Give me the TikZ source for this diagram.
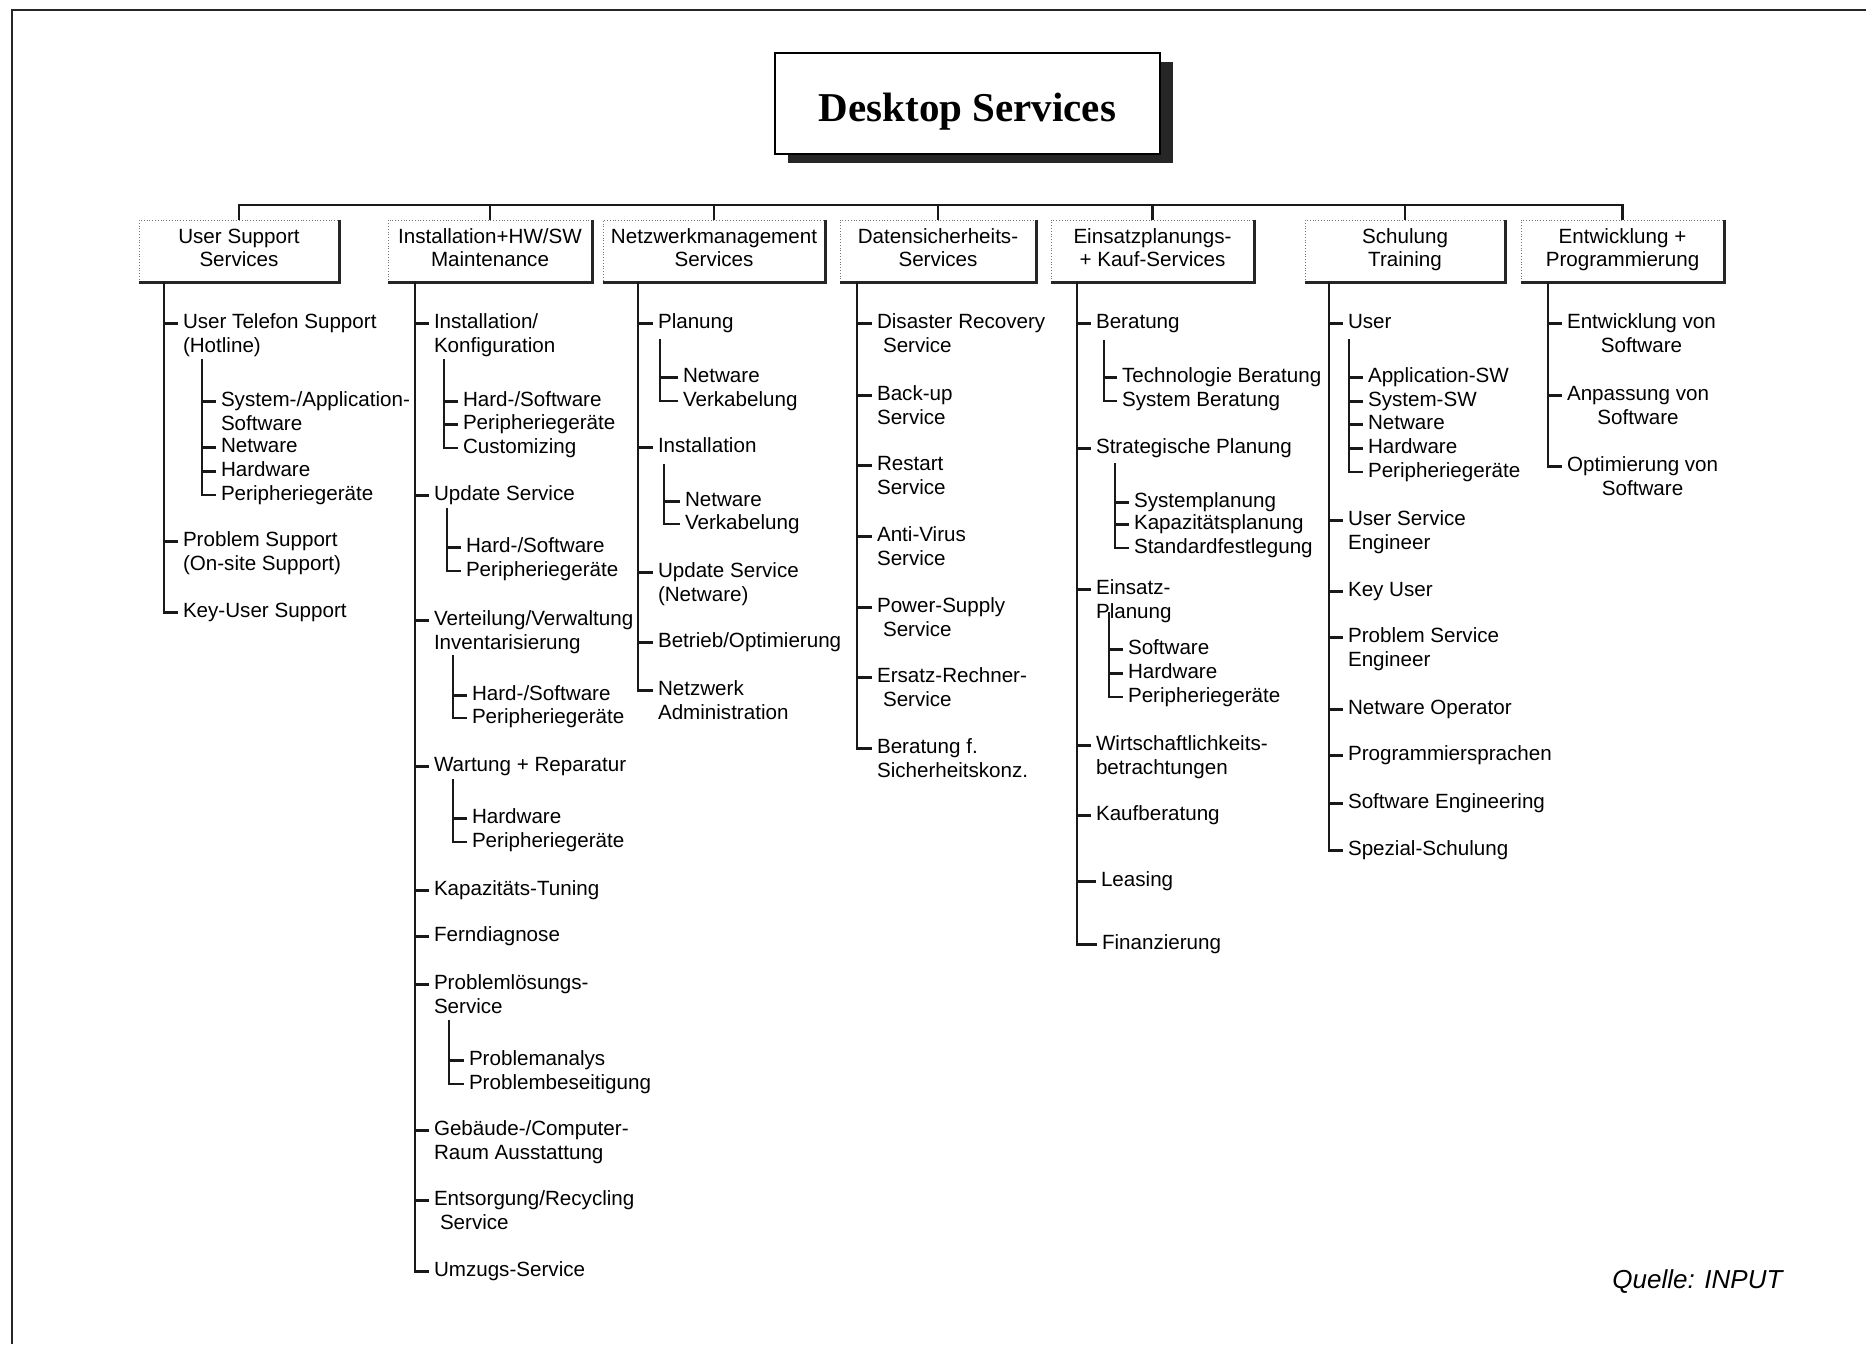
\documentclass[tikz,border=0pt]{standalone}
\usepackage{fontspec}
\setmainfont{Liberation Sans}
\newfontfamily\titlefont{Liberation Serif}
\usetikzlibrary{shadows}
\newcommand\itemfont{\fontsize{10.3}{11.9}\selectfont}
\newcommand\boxfont{\fontsize{10.3}{11.3}\selectfont}
\newcommand\twoL[1]{\begin{tabular}[t]{@{}l@{}}#1\end{tabular}}
\newcommand\twoC[1]{\begin{tabular}[t]{@{}c@{}}#1\end{tabular}}
\newcommand\boxtext[1]{\raisebox{0.3pt}[\height][\depth]{\begin{tabular}{@{}c@{}}#1\end{tabular}}}
\begin{document}
\begin{tikzpicture}[x=0.5pt,y=-0.5pt,
  frameline/.style={line width=1.3pt, black!85},
  titlebox/.style={draw=black, line width=1pt, fill=white, minimum width=192.5pt, minimum height=50.5pt,
    font=\titlefont\bfseries\fontsize{20.5}{24}\selectfont,
    drop shadow={shadow xshift=6.5pt, shadow yshift=-4.5pt, fill=black!85, opacity=1}},
  catbox/.style={draw=black!55, densely dotted, line width=0.4pt, minimum height=31pt, inner sep=0pt, font=\boxfont},
  boxshade/.style={line width=1.6pt, black!85},
  bus/.style={line width=1.4pt, black!90},
  trunk/.style={line width=1.4pt, black!90},
  subtrunk/.style={line width=1pt, black!90},
  tick/.style={line width=1.1pt, black!90},
  item/.style={anchor=mid west, inner sep=0pt, outer xsep=2.5pt, yshift=-1.2pt, font=\itemfont}
]
\useasboundingbox (0,0) rectangle (1866,1344);
% frame
\coordinate (fTL) at (12,10);
\coordinate (fTR) at (1866,10);
\coordinate (fBL) at (12,1344);
\draw[frameline] (fBL) -- (fTL) -- (fTR);

% title
\node[titlebox] (title) at (967.5,103.5) {\raisebox{-4pt}[\height][\depth]{Desktop Services}};

% category boxes
\node[catbox, minimum width=100pt]   (k1) at (239,251)    {\boxtext{User Support\\Services}};
\node[catbox, minimum width=102pt]   (k2) at (490,251)    {\boxtext{Installation+HW/SW\\Maintenance}};
\node[catbox, minimum width=111pt]   (k3) at (714,251)    {\boxtext{Netzwerkmanagement\\Services}};
\node[catbox, minimum width=98pt]    (k4) at (938,251)    {\boxtext{Datensicherheits-\\Services}};
\node[catbox, minimum width=101.5pt] (k5) at (1152.5,251) {\boxtext{Einsatzplanungs-\\+ Kauf-Services}};
\node[catbox, minimum width=100pt]   (k6) at (1405,251)   {\boxtext{Schulung\\Training}};
\node[catbox, minimum width=101.5pt] (k7) at (1622.5,251) {\boxtext{Entwicklung +\\Programmierung}};
\foreach \k in {k1,k2,k3,k4,k5,k6,k7}
  \draw[boxshade] (\k.north east) -- (\k.south east) -- (\k.south west);

% bus
\coordinate (bus) at (0,205);
\draw[bus] (k1.north) -- (k1.north |- bus) -- (k7.north |- bus) -- (k7.north);
\foreach \k in {k2,k3,k4,k5,k6}
  \draw[bus] (\k.north) -- (\k.north |- bus);

% ---------- Column 1 ----------
\coordinate (t1) at (164,282);
\node[item] (a1) at (178,321) {\twoL{User Telefon Support\\(Hotline)}};
\coordinate (c1s1) at (202,359);
\node[item] (a1a) at (216,399) {\twoL{System-/Application-\\Software}};
\node[item] (a1b) at (216,445) {Netware};
\node[item] (a1c) at (216,469) {Hardware};
\node[item] (a1d) at (216,493) {Peripheriegeräte};
\node[item] (a2) at (178,539) {\twoL{Problem Support\\(On-site Support)}};
\node[item] (a3) at (178,610) {Key-User Support};
\draw[trunk] (t1) |- (a3.mid west);
\foreach \n in {a1,a2} \draw[tick] (\n.mid west) -- (\n.mid west -| t1);
\draw[subtrunk] (c1s1) |- (a1d.mid west);
\foreach \n in {a1a,a1b,a1c} \draw[tick] (\n.mid west) -- (\n.mid west -| c1s1);

% ---------- Column 2 ----------
\coordinate (t2) at (415,282);
\node[item] (b1) at (429,321) {\twoL{Installation/\\Konfiguration}};
\coordinate (c2s1) at (444,359);
\node[item] (b1a) at (458,399) {Hard-/Software};
\node[item] (b1b) at (458,422) {Peripheriegeräte};
\node[item] (b1c) at (458,446) {Customizing};
\node[item] (b2) at (429,493) {Update Service};
\coordinate (c2s2) at (447,508);
\node[item] (b2a) at (461,545) {Hard-/Software};
\node[item] (b2b) at (461,569) {Peripheriegeräte};
\node[item] (b3) at (429,618) {\twoL{Verteilung/Verwaltung\\Inventarisierung}};
\coordinate (c2s3) at (453,655);
\node[item] (b3a) at (467,693) {Hard-/Software};
\node[item] (b3b) at (467,716) {Peripheriegeräte};
\node[item] (b4) at (429,764) {Wartung + Reparatur};
\coordinate (c2s4) at (453,779);
\node[item] (b4a) at (467,816) {Hardware};
\node[item] (b4b) at (467,840) {Peripheriegeräte};
\node[item] (b5) at (429,888) {Kapazitäts-Tuning};
\node[item] (b6) at (429,934) {Ferndiagnose};
\node[item] (b7) at (429,982) {\twoL{Problemlösungs-\\Service}};
\coordinate (c2s5) at (449,1020);
\node[item] (b7a) at (464,1058) {Problemanalys};
\node[item] (b7b) at (464,1082) {Problembeseitigung};
\node[item] (b8) at (429,1128) {\twoL{Gebäude-/Computer-\\Raum Ausstattung}};
\node[item] (b9) at (429,1198) {\twoL{Entsorgung/Recycling\\\hspace*{3pt}Service}};
\node[item] (b10) at (429,1269) {Umzugs-Service};
\draw[trunk] (t2) |- (b10.mid west);
\foreach \n in {b1,b2,b3,b4,b5,b6,b7,b8,b9} \draw[tick] (\n.mid west) -- (\n.mid west -| t2);
\draw[subtrunk] (c2s1) |- (b1c.mid west);
\foreach \n in {b1a,b1b} \draw[tick] (\n.mid west) -- (\n.mid west -| c2s1);
\draw[subtrunk] (c2s2) |- (b2b.mid west);
\draw[tick] (b2a.mid west) -- (b2a.mid west -| c2s2);
\draw[subtrunk] (c2s3) |- (b3b.mid west);
\draw[tick] (b3a.mid west) -- (b3a.mid west -| c2s3);
\draw[subtrunk] (c2s4) |- (b4b.mid west);
\draw[tick] (b4a.mid west) -- (b4a.mid west -| c2s4);
\draw[subtrunk] (c2s5) |- (b7b.mid west);
\draw[tick] (b7a.mid west) -- (b7a.mid west -| c2s5);

% ---------- Column 3 ----------
\coordinate (t3) at (638,282);
\node[item] (c1) at (653,321) {Planung};
\coordinate (c3s1) at (660,339);
\node[item] (c1a) at (678,375) {Netware};
\node[item] (c1b) at (678,399) {Verkabelung};
\node[item] (c2) at (653,445) {Installation};
\coordinate (c3s2) at (664,464);
\node[item] (c2a) at (680,499) {Netware};
\node[item] (c2b) at (680,522) {Verkabelung};
\node[item] (c3) at (653,570) {\twoL{Update Service\\(Netware)}};
\node[item] (c4) at (653,640) {Betrieb/Optimierung};
\node[item] (c5) at (653,688) {\twoL{Netzwerk\\Administration}};
\draw[trunk] (t3) |- (c5.mid west);
\foreach \n in {c1,c2,c3,c4} \draw[tick] (\n.mid west) -- (\n.mid west -| t3);
\draw[subtrunk] (c3s1) |- (c1b.mid west);
\draw[tick] (c1a.mid west) -- (c1a.mid west -| c3s1);
\draw[subtrunk] (c3s2) |- (c2b.mid west);
\draw[tick] (c2a.mid west) -- (c2a.mid west -| c3s2);

% ---------- Column 4 ----------
\coordinate (t4) at (857,282);
\node[item] (d1) at (872,321) {\twoL{Disaster Recovery\\\hspace*{3pt}Service}};
\node[item] (d2) at (872,393) {\twoL{Back-up\\Service}};
\node[item] (d3) at (872,463) {\twoL{Restart\\Service}};
\node[item] (d4) at (872,534) {\twoL{Anti-Virus\\Service}};
\node[item] (d5) at (872,605) {\twoL{Power-Supply\\\hspace*{3pt}Service}};
\node[item] (d6) at (872,675) {\twoL{Ersatz-Rechner-\\\hspace*{3pt}Service}};
\node[item] (d7) at (872,746) {\twoL{Beratung f.\\Sicherheitskonz.}};
\draw[trunk] (t4) |- (d7.mid west);
\foreach \n in {d1,d2,d3,d4,d5,d6} \draw[tick] (\n.mid west) -- (\n.mid west -| t4);

% ---------- Column 5 ----------
\coordinate (t5) at (1077,282);
\node[item] (e1) at (1091,321) {Beratung};
\coordinate (c5s1) at (1104,340);
\node[item] (e1a) at (1117,375) {Technologie Beratung};
\node[item] (e1b) at (1117,399) {System Beratung};
\node[item] (e2) at (1091,446) {Strategische Planung};
\coordinate (c5s2) at (1115,463);
\node[item] (e2a) at (1129,500) {Systemplanung};
\node[item] (e2b) at (1129,522) {Kapazitätsplanung};
\node[item] (e2c) at (1129,546) {Standardfestlegung};
\node[item] (e3) at (1091,587) {\twoL{Einsatz-\\Planung}};
\coordinate (c5s3) at (1109,612);
\node[item] (e3a) at (1123,647) {Software};
\node[item] (e3b) at (1123,671) {Hardware};
\node[item] (e3c) at (1123,695) {Peripheriegeräte};
\node[item] (e4) at (1091,743) {\twoL{Wirtschaftlichkeits-\\betrachtungen}};
\node[item] (e5) at (1091,813) {Kaufberatung};
\node[item] (e6) at (1096,879) {Leasing};
\node[item] (e7) at (1097,942) {Finanzierung};
\draw[trunk] (t5) |- (e7.mid west);
\foreach \n in {e1,e2,e3,e4,e5,e6} \draw[tick] (\n.mid west) -- (\n.mid west -| t5);
\draw[subtrunk] (c5s1) |- (e1b.mid west);
\draw[tick] (e1a.mid west) -- (e1a.mid west -| c5s1);
\draw[subtrunk] (c5s2) |- (e2c.mid west);
\foreach \n in {e2a,e2b} \draw[tick] (\n.mid west) -- (\n.mid west -| c5s2);
\draw[subtrunk] (c5s3) |- (e3c.mid west);
\foreach \n in {e3a,e3b} \draw[tick] (\n.mid west) -- (\n.mid west -| c5s3);

% ---------- Column 6 ----------
\coordinate (t6) at (1329,282);
\node[item] (f1) at (1343,321) {User};
\coordinate (c6s1) at (1349,339);
\node[item] (f1a) at (1363,375) {Application-SW};
\node[item] (f1b) at (1363,399) {System-SW};
\node[item] (f1c) at (1363,422) {Netware};
\node[item] (f1d) at (1363,446) {Hardware};
\node[item] (f1e) at (1363,470) {Peripheriegeräte};
\node[item] (f2) at (1343,518) {\twoL{User Service\\Engineer}};
\node[item] (f3) at (1343,589) {Key User};
\node[item] (f4) at (1343,635) {\twoL{Problem Service\\Engineer}};
\node[item] (f5) at (1343,707) {Netware Operator};
\node[item] (f6) at (1343,753) {Programmiersprachen};
\node[item] (f7) at (1343,801) {Software Engineering};
\node[item] (f8) at (1343,848) {Spezial-Schulung};
\draw[trunk] (t6) |- (f8.mid west);
\foreach \n in {f1,f2,f3,f4,f5,f6,f7} \draw[tick] (\n.mid west) -- (\n.mid west -| t6);
\draw[subtrunk] (c6s1) |- (f1e.mid west);
\foreach \n in {f1a,f1b,f1c,f1d} \draw[tick] (\n.mid west) -- (\n.mid west -| c6s1);

% ---------- Column 7 ----------
\coordinate (t7) at (1548,282);
\node[item] (g1) at (1562,321) {\twoC{Entwicklung von\\Software}};
\node[item] (g2) at (1562,393) {\twoC{Anpassung von\\Software}};
\node[item] (g3) at (1562,464) {\twoC{Optimierung von\\Software}};
\draw[trunk] (t7) |- (g3.mid west);
\foreach \n in {g1,g2} \draw[tick] (\n.mid west) -- (\n.mid west -| t7);

% source
\node[anchor=mid west, inner sep=0pt, font=\fontsize{13}{15}\selectfont\itshape] (src) at (1612,1283) {Quelle: INPUT};
\end{tikzpicture}
\end{document}
